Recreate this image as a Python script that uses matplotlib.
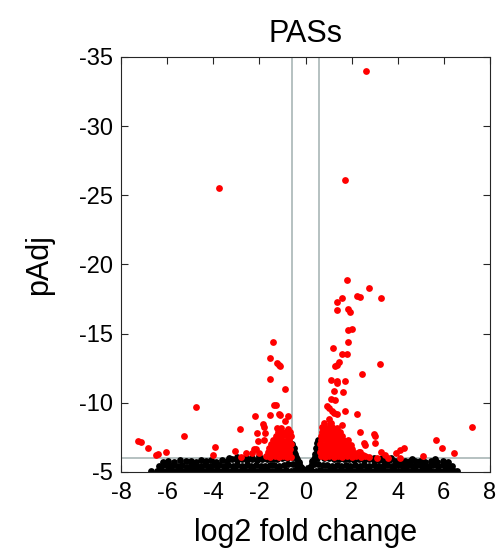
import matplotlib
matplotlib.use("Agg")
import matplotlib.pyplot as plt

# ---------------- data ----------------
title = "PASs"
x_label = "log2 fold change"
y_label = "pAdj"
x_ticks = [-8, -6, -4, -2, 0, 2, 4, 6, 8]
y_ticks = [-35, -30, -25, -20, -15, -10, -5]
fc_cut = 0.585
p_cut = -6.0

# non-significant points (black), bottom band
black_row1_x = [-6.45, -6.26, -6.07, -5.85, -5.66, -5.44, -5.27, -5.05, -4.84, -4.66, -4.45, -4.24, -4.06,
                -3.85, -3.64, -3.46, -3.25, -3.04, -2.86, -2.65, -2.44, -2.26, -2.05, -1.84, -1.66, -1.45,
                -1.24, -1.06, -0.85, -0.64, -0.45, -0.26, -0.09,
                0.09, 0.26, 0.45, 0.64, 0.85, 1.06, 1.24, 1.45, 1.66, 1.84, 2.05, 2.26, 2.44, 2.65, 2.86,
                3.04, 3.25, 3.46, 3.64, 3.85, 4.06, 4.24, 4.45, 4.66, 4.84, 5.05, 5.27, 5.44, 5.66, 5.85,
                6.07, 6.26, 6.45]
black_row1_y = [-5.08, -5.14, -5.05, -5.12, -5.09, -5.15, -5.06, -5.11, -5.13, -5.07, -5.1, -5.15, -5.05,
                -5.12, -5.08, -5.14, -5.06, -5.11, -5.09, -5.13, -5.07, -5.15, -5.1, -5.05, -5.12, -5.08,
                -5.14, -5.06, -5.11, -5.09, -5.13, -5.16, -5.1,
                -5.12, -5.15, -5.08, -5.13, -5.06, -5.11, -5.14, -5.07, -5.1, -5.15, -5.05, -5.12, -5.09,
                -5.13, -5.06, -5.11, -5.14, -5.08, -5.1, -5.15, -5.07, -5.12, -5.09, -5.13, -5.05, -5.11,
                -5.14, -5.08, -5.1, -5.06, -5.12, -5.09, -5.07]
black_row2_x = [-6.36, -6.16, -5.96, -5.75, -5.55, -5.36, -5.15, -4.95, -4.75, -4.55, -4.35, -4.15, -3.95,
                -3.75, -3.55, -3.35, -3.15, -2.95, -2.75, -2.55, -2.35, -2.15, -1.95, -1.75, -1.55, -1.35,
                -1.15, -0.95, -0.75, -0.55, -0.36, -0.2,
                0.2, 0.36, 0.55, 0.75, 0.95, 1.15, 1.35, 1.55, 1.75, 1.95, 2.15, 2.35, 2.55, 2.75, 2.95,
                3.15, 3.35, 3.55, 3.75, 3.95, 4.15, 4.35, 4.55, 4.75, 4.95, 5.15, 5.36, 5.55, 5.75, 5.96,
                6.16, 6.36]
black_row2_y = [-5.45, -5.5, -5.4, -5.52, -5.44, -5.48, -5.38, -5.5, -5.46, -5.42, -5.53, -5.4, -5.47,
                -5.5, -5.43, -5.48, -5.41, -5.52, -5.45, -5.49, -5.4, -5.5, -5.46, -5.43, -5.52, -5.47,
                -5.41, -5.5, -5.55, -5.6, -5.5, -5.35,
                -5.38, -5.55, -5.6, -5.5, -5.47, -5.42, -5.51, -5.45, -5.49, -5.4, -5.52, -5.44, -5.48,
                -5.41, -5.5, -5.46, -5.43, -5.52, -5.4, -5.47, -5.5, -5.44, -5.48, -5.42, -5.51, -5.45,
                -5.4, -5.49, -5.46, -5.52, -5.43, -5.4]
black_row3_x = [-6.2, -5.95, -5.7, -5.45, -5.2, -4.98, -4.76, -4.54, -4.3, -4.08, -3.86, -3.64, -3.42,
                -3.2, -2.98, -2.76, -2.54, -2.32, -2.1, -1.88, -1.66, -1.44, -1.22, -1.0, -0.8, -0.6,
                -0.42, -0.3,
                0.3, 0.42, 0.6, 0.8, 1.0, 1.22, 1.44, 1.66, 1.88, 2.1, 2.32, 2.54, 2.76, 2.98, 3.2,
                3.42, 3.64, 3.86, 4.08, 4.3, 4.54, 4.76, 4.98, 5.2, 5.45, 5.7, 5.95, 6.2]
black_row3_y = [-5.72, -5.8, -5.7, -5.85, -5.76, -5.82, -5.74, -5.88, -5.78, -5.83, -5.75, -5.86, -5.8,
                -5.9, -5.84, -5.92, -5.86, -5.95, -5.88, -5.93, -5.9, -5.96, -5.92, -5.98, -6.0, -6.15,
                -6.05, -5.75,
                -5.8, -6.1, -6.2, -6.02, -5.97, -5.93, -5.96, -5.9, -5.94, -5.88, -5.92, -5.86, -5.9,
                -5.84, -5.88, -5.82, -5.86, -5.8, -5.84, -5.78, -5.82, -5.76, -5.8, -5.74, -5.78, -5.72,
                -5.76, -5.7]
black_row4_x = [-3.3, -2.95, -2.6, -2.3, -2.0, -1.72, -1.45, -1.2, -0.95, -0.72, -0.52, 0.48, 0.7, 0.95,
                1.2, 1.45, 1.72, 2.0, 2.3, 2.62, 2.95, 3.3, 3.7, 4.6, 5.6]
black_row4_y = [-6.0, -6.05, -6.1, -6.02, -6.12, -6.08, -6.2, -6.3, -6.4, -6.5, -6.45, -6.6, -6.4, -6.25,
                -6.15, -6.1, -6.05, -6.1, -6.02, -6.06, -6.0, -6.03, -5.98, -5.95, -5.92]
black_peak_x = [-0.8, -0.66, -0.62, -0.58, -0.55, -0.5, -0.45, -0.38, -0.3, -0.12, 0.0, 0.12, 0.28, 0.35,
                0.4, 0.45, 0.48, 0.52, 0.55, 0.6, 0.62, 0.7, 0.8, -6.7, 6.58]
black_peak_y = [-6.4, -6.8, -6.45, -7.0, -6.1, -6.7, -6.3, -5.95, -5.6, -5.2, -5.15, -5.25, -5.6, -5.95,
                -6.3, -6.7, -7.1, -6.0, -7.3, -6.9, -6.5, -6.8, -6.4, -5.05, -5.1]

# significant points (red), scattered
red_scatter_x = [2.61, 1.70, -3.77, 1.80, 2.74, 2.23, 2.35, 3.29, 1.59, 1.36, 1.36, 1.85, 1.91, 1.84, 2.03,
                 1.84, 1.19, 1.58, 1.78, 1.46, 1.38, 1.30, 3.22, 2.45, 1.12, 1.36, 1.38, 1.73,
                 -1.39, -1.55, -1.23, -1.16, -1.12, -1.52, -0.90, -1.35, -1.27, -4.73, -2.19, -1.52, -1.17,
                 -1.10, -0.74, -0.88, -1.86, -1.78, -2.83, -2.10, -1.75, -5.26, -7.27, -7.14, -6.81, -6.49,
                 -6.40, -6.04, -3.94, -4.0, -3.07, -2.57, -2.22, -2.04, -1.80, -2.32, -2.79, -2.14, -2.0,
                 1.22, 1.62, 1.09, 1.27, 0.94, 1.0, 1.16, 1.25, 1.35, 1.70, 2.23, 1.03, 1.10, 1.58, 2.36,
                 2.96, 3.01, 7.23, 3.01, 2.55, 2.60, 5.68, 5.93, 6.45, 5.10, 4.28, 4.09, 3.91, 3.26, 3.43,
                 4.09, 2.30, 2.49, 2.75, 3.10, 3.58, 1.77]
red_scatter_y = [-34.0, -26.07, -25.53, -18.84, -18.28, -17.73, -17.68, -17.56, -17.56, -17.25, -16.72,
                 -16.79, -16.59, -15.27, -15.31, -14.37, -13.93, -13.5, -13.5, -12.95, -12.75, -12.63,
                 -12.83, -12.1, -11.62, -11.54, -11.4, -11.59,
                 -14.42, -13.21, -12.85, -12.75, -12.66, -11.74, -10.99, -9.86, -9.83, -9.66, -9.06, -9.08,
                 -9.15, -9.08, -9.06, -8.7, -8.46, -8.28, -8.12, -7.8, -7.8, -7.56, -7.25, -7.15, -6.76,
                 -6.23, -6.3, -6.43, -6.83, -6.23, -6.54, -6.36, -6.62, -7.25, -7.32, -6.36, -6.06, -6.64,
                 -6.36,
                 -10.85, -10.78, -10.29, -10.22, -9.73, -9.61, -9.37, -9.25, -9.15, -9.37, -9.22, -8.84,
                 -8.53, -8.41, -7.85, -7.75, -7.63, -8.21, -7.1, -7.12, -6.93, -7.32, -6.76, -6.36, -6.18,
                 -6.72, -6.59, -6.4, -6.47, -6.23, -6.04, -6.45, -6.23, -6.06, -6.0, -6.04, -6.72]

# significant points (red), dense cluster left of zero
red_left_x = [-1.7, -1.52, -1.34, -1.16, -0.98, -0.8, -0.64,
              -1.62, -1.44, -1.26, -1.08, -0.9, -0.72,
              -1.58, -1.4, -1.22, -1.04, -0.86, -0.68,
              -1.5, -1.32, -1.14, -0.96, -0.78, -0.64,
              -1.42, -1.24, -1.06, -0.88, -0.7,
              -1.3, -1.12, -0.94, -0.76, -0.64,
              -1.18, -1.0, -0.82, -0.68,
              -1.25, -1.05, -0.75]
red_left_y = [-6.12, -6.06, -6.14, -6.08, -6.15, -6.05, -6.11,
              -6.42, -6.37, -6.44, -6.39, -6.43, -6.36,
              -6.72, -6.68, -6.74, -6.66, -6.71, -6.69,
              -7.02, -6.98, -7.04, -6.97, -7.03, -6.99,
              -7.32, -7.28, -7.34, -7.27, -7.31,
              -7.62, -7.58, -7.64, -7.57, -7.61,
              -7.92, -7.88, -7.94, -7.87,
              -8.2, -8.16, -8.08]

# significant points (red), dense cluster right of zero
red_right_x = [0.66, 0.85, 1.02, 1.22, 1.41, 1.6, 1.8, 2.0, 2.2, 2.42, 2.6,
               0.64, 0.82, 1.0, 1.18, 1.38, 1.56, 1.75, 1.95, 2.15, 2.35,
               0.66, 0.86, 1.04, 1.24, 1.43, 1.62, 1.82, 2.03,
               0.65, 0.84, 1.02, 1.2, 1.4, 1.58, 1.78, 1.98,
               0.68, 0.88, 1.06, 1.25, 1.45, 1.64, 1.85,
               0.66, 0.85, 1.04, 1.22, 1.42, 1.6,
               0.7, 0.9, 1.1, 1.3, 1.5,
               0.72, 0.95, 1.15, 1.38,
               0.8, 1.05]
red_right_y = [-6.12, -6.05, -6.15, -6.08, -6.14, -6.06, -6.13, -6.1, -6.16, -6.08, -6.12,
               -6.42, -6.38, -6.45, -6.36, -6.43, -6.4, -6.35, -6.44, -6.38, -6.42,
               -6.72, -6.68, -6.74, -6.66, -6.71, -6.69, -6.73, -6.68,
               -7.02, -6.98, -7.04, -6.97, -7.03, -6.99, -7.02, -6.96,
               -7.32, -7.28, -7.34, -7.27, -7.31, -7.29, -7.33,
               -7.62, -7.58, -7.64, -7.57, -7.61, -7.59,
               -7.92, -7.88, -7.94, -7.87, -7.91,
               -8.22, -8.18, -8.24, -8.17,
               -8.52, -8.48]

black_x = black_row1_x + black_row2_x + black_row3_x + black_row4_x + black_peak_x
black_y = black_row1_y + black_row2_y + black_row3_y + black_row4_y + black_peak_y
red_x = red_left_x + red_right_x + red_scatter_x
red_y = red_left_y + red_right_y + red_scatter_y

# ---------------- plot ----------------
plt.rcParams['font.family'] = ['Liberation Sans', 'DejaVu Sans']
plt.rcParams['axes.unicode_minus'] = False

fig = plt.figure(figsize=(5, 5.5), dpi=100)
ax = fig.add_axes([0.242, 0.142, 0.738, 0.7545])

ax.axhline(p_cut, color='#a9b6b6', lw=1.2, zorder=1)
ax.axvline(-fc_cut, color='#a9b6b6', lw=1.2, zorder=1)
ax.axvline(fc_cut, color='#a9b6b6', lw=1.2, zorder=1)

ax.scatter(black_x, black_y, s=24, c='black', linewidths=0, zorder=2)
ax.scatter(red_x, red_y, s=24, c='#ff0000', linewidths=0, zorder=3)

ax.set_xlim(-8, 8)
ax.set_ylim(-5, -35)
ax.set_xticks(x_ticks)
ax.set_yticks(y_ticks)
ax.tick_params(direction='in', top=True, right=True, length=5, width=0.8,
               labelsize=17, colors='#262626', labelcolor='black')
ax.tick_params(axis='x', pad=7)
ax.tick_params(axis='y', pad=6)
for sp in ax.spines.values():
    sp.set_linewidth(0.8)
    sp.set_color('#262626')

ax.set_title(title, fontsize=22, pad=11)
ax.set_xlabel(x_label, fontsize=22, labelpad=10)
ax.set_ylabel(y_label, fontsize=22, labelpad=18)

fig.savefig("out.png", dpi=100)
